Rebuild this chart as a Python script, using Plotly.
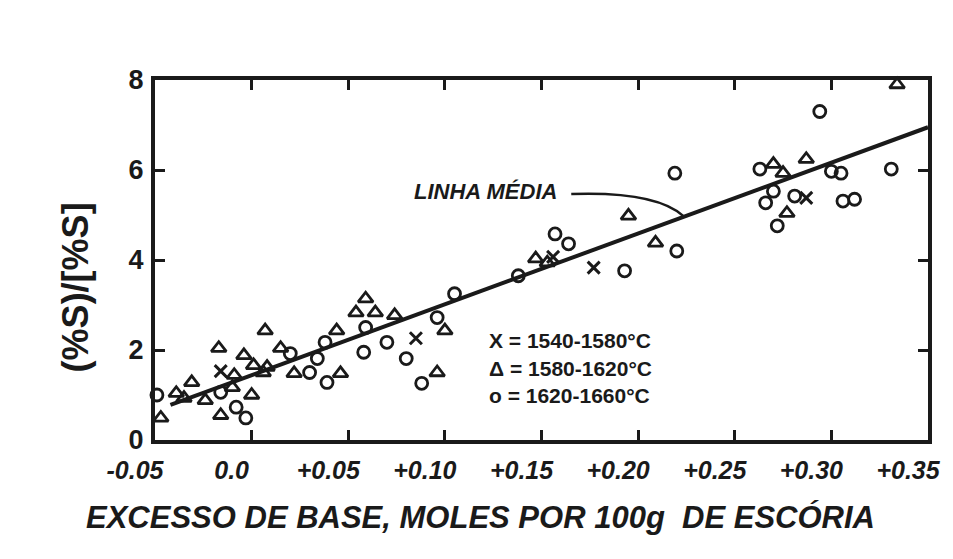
import plotly.graph_objects as go

# ---- data ----
circ_x = [-0.049, -0.016, -0.008, -0.003, 0.020, 0.030, 0.034, 0.038, 0.039, 0.059,
          0.058, 0.070, 0.080, 0.088, 0.096, 0.105, 0.138, 0.157, 0.164, 0.193,
          0.220, 0.219, 0.294, 0.263, 0.300, 0.305, 0.270, 0.266, 0.281, 0.306,
          0.312, 0.272, 0.331]
circ_y = [1.00, 1.06, 0.73, 0.49, 1.92, 1.50, 1.81, 2.17, 1.28, 2.50,
          1.95, 2.17, 1.81, 1.26, 2.72, 3.25, 3.65, 4.58, 4.36, 3.76,
          4.20, 5.93, 7.30, 6.02, 5.97, 5.93, 5.53, 5.27, 5.42, 5.31,
          5.35, 4.76, 6.02]

tri_x = [-0.047, -0.039, -0.035, -0.031, -0.024, -0.017, -0.010, -0.009, -0.004, 0.001,
         0.006, 0.000, -0.016, 0.007, 0.015, 0.022, 0.008, 0.044, 0.046, 0.054,
         0.059, 0.064, 0.074, 0.100, 0.096, 0.147, 0.153, 0.195, 0.209, 0.270,
         0.275, 0.287, 0.277, 0.334]
tri_y = [0.49, 1.04, 0.93, 1.28, 0.88, 2.04, 1.17, 1.44, 1.88, 1.66,
         1.50, 1.00, 0.55, 2.43, 2.04, 1.48, 1.62, 2.43, 1.48, 2.83,
         3.14, 2.83, 2.77, 2.43, 1.50, 4.03, 3.94, 4.98, 4.38, 6.13,
         5.93, 6.24, 5.04, 7.90]

x_x = [-0.016, 0.085, 0.177, 0.156, 0.287]
x_y = [1.53, 2.26, 3.83, 4.07, 5.38]

line_x = [-0.042, 0.35]
line_y = [0.78, 6.95]

xtick_vals = [-0.05, 0.0, 0.05, 0.10, 0.15, 0.20, 0.25, 0.30, 0.35]
xtick_text = ["-0.05", "0.0", "+0.05", "+0.10", "+0.15", "+0.20", "+0.25", "+0.30", "+0.35"]
ytick_vals = [0, 2, 4, 6, 8]

legend_lines = ["X = 1540-1580°C", "Δ = 1580-1620°C", "o = 1620-1660°C"]

FONT = "Liberation Sans"
INK = "#1a1a1a"

fig = go.Figure()

fig.add_trace(go.Scatter(x=line_x, y=line_y, mode="lines",
                         line=dict(color=INK, width=4), hoverinfo="skip"))
fig.add_trace(go.Scatter(x=circ_x, y=circ_y, mode="markers", cliponaxis=False,
                         marker=dict(symbol="circle-open", size=12, color=INK,
                                     line=dict(width=2.8, color=INK))))
fig.add_trace(go.Scatter(x=tri_x, y=tri_y, mode="markers", cliponaxis=False,
                         marker=dict(symbol="triangle-up-open", size=13, color=INK,
                                     line=dict(width=2.8, color=INK))))
fig.add_trace(go.Scatter(x=x_x, y=x_y, mode="markers", cliponaxis=False,
                         marker=dict(symbol="x-thin-open", size=12, color=INK,
                                     line=dict(width=3, color=INK))))

axis_common = dict(showline=True, linecolor=INK, linewidth=4, mirror="ticks",
                   ticks="inside", ticklen=10, tickwidth=3, tickcolor=INK,
                   showgrid=False, zeroline=False)

fig.update_xaxes(range=[-0.05, 0.35], tickvals=xtick_vals, ticktext=xtick_text,
                 tickfont=dict(family=FONT, size=25, color=INK, weight="bold", style="italic"),
                 ticklabelshift=-20, ticklabelstandoff=5, **axis_common)
fig.update_yaxes(range=[0, 8], tickvals=ytick_vals,
                 tickfont=dict(family=FONT, size=27, color=INK, weight="bold"),
                 ticklabelstandoff=2, **axis_common)

ann = []
# axis titles
ann.append(dict(text="EXCESSO DE BASE, MOLES POR 100g  DE ESCÓRIA", xref="paper", yref="paper",
                x=0.421, y=-0.214, showarrow=False, xanchor="center", yanchor="middle",
                font=dict(family=FONT, size=31, color=INK, weight="bold", style="italic")))
ann.append(dict(text="(%S)/[%S]", xref="paper", yref="paper", x=-0.103, y=0.425,
                textangle=-90, showarrow=False, xanchor="center", yanchor="middle",
                font=dict(family=FONT, size=36, color=INK, weight="bold")))
# mean line label
ann.append(dict(text="LINHA MÉDIA", x=0.121, y=5.53, xref="x", yref="y", showarrow=False,
                xanchor="center", yanchor="middle",
                font=dict(family=FONT, size=22, color=INK, weight="bold", style="italic")))
# legend text
for txt, yy in zip(legend_lines, [2.21, 1.59, 1.00]):
    ann.append(dict(text=txt, x=0.1218, y=yy, xref="x", yref="y", showarrow=False,
                    xanchor="left", yanchor="middle",
                    font=dict(family=FONT, size=21, color=INK, weight="bold")))

pointer_path = "M 0.1654,5.465 Q 0.209,5.53 0.2233,4.98"

fig.update_layout(
    width=953, height=559,
    margin=dict(l=155, r=18, t=80, b=119),
    paper_bgcolor="white", plot_bgcolor="white",
    showlegend=False,
    annotations=ann,
    shapes=[dict(type="path", path=pointer_path, xref="x", yref="y",
                 line=dict(color=INK, width=2.5))],
)

fig.write_html("out.html")
